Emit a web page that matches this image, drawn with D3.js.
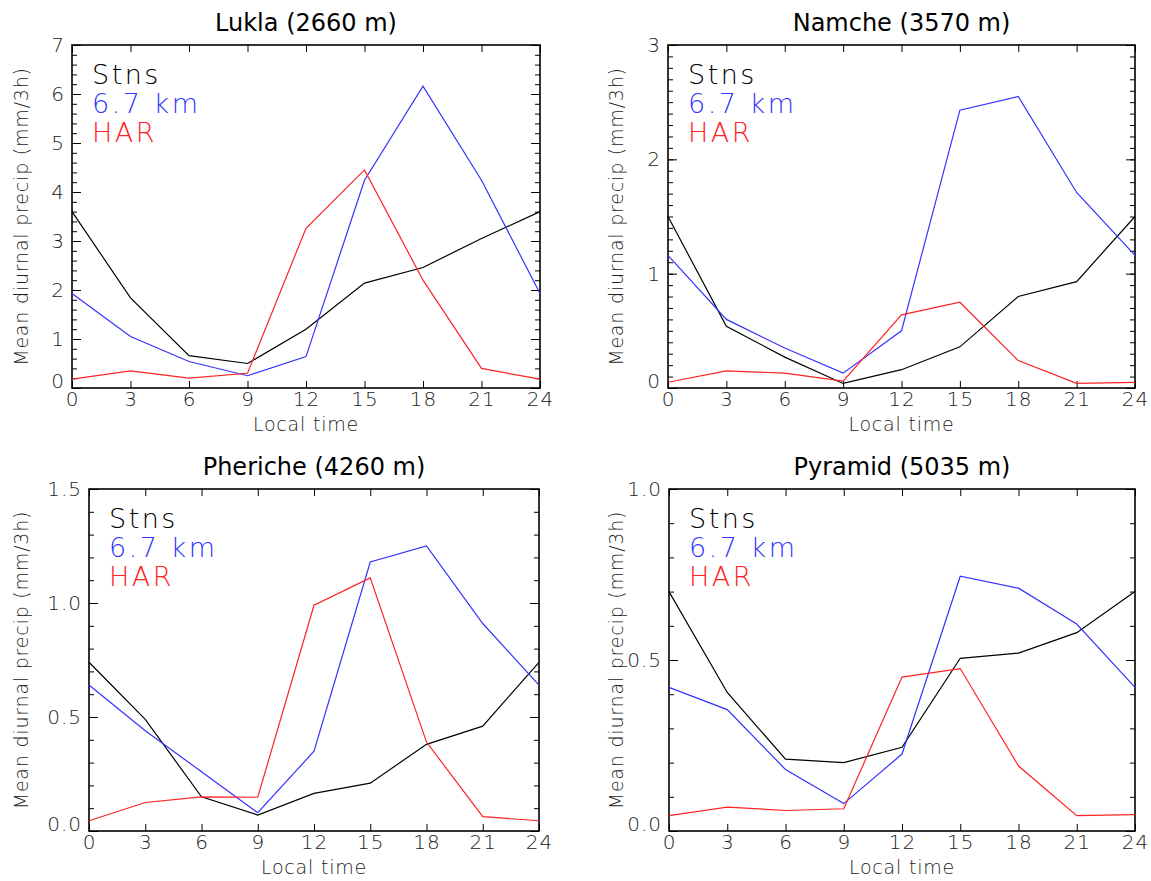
<!DOCTYPE html>
<html>
<head>
<meta charset="utf-8">
<script src="https://cdn.jsdelivr.net/npm/d3@7"></script>
<style>
  body { margin: 0; background: #fff; }
  svg { display: block; }
  .thin { font-family: 'DejaVu Sans', sans-serif; font-weight: 200; fill: #222; }
  .title { font-family: 'DejaVu Sans', sans-serif; font-size: 24px; font-weight: normal; fill: #000; }
</style>
</head>
<body>
<div id="chart"></div>
<script>
// local time (hours) of each 3-hourly mean
const hours = [0, 3, 6, 9, 12, 15, 18, 21, 24];
const stations = ['Lukla (2660 m)', 'Namche (3570 m)', 'Pheriche (4260 m)', 'Pyramid (5035 m)'];
const seriesNames = ['Stns', '6.7 km', 'HAR'];
const seriesColors = ['#000000', '#3333ff', '#ff2222'];

// y axis ranges and tick steps per station
const yMax = [7, 3, 1.5, 1.0];
const yMajor = [1, 1, 0.5, 0.5];
const yMinor = [0.2, 0.1, 0.1, 0.1];
const yFormat = ['d', 'd', '.1f', '.1f'];

// Mean diurnal precip (mm/3h)
const stnsLukla = [3.60, 1.84, 0.66, 0.50, 1.20, 2.14, 2.46, 3.05, 3.60];
const km67Lukla = [1.93, 1.05, 0.54, 0.25, 0.64, 4.24, 6.16, 4.24, 1.93];
const harLukla = [0.18, 0.35, 0.20, 0.30, 3.26, 4.45, 2.20, 0.40, 0.18];

const stnsNamche = [1.50, 0.54, 0.27, 0.04, 0.16, 0.36, 0.80, 0.93, 1.50];
const km67Namche = [1.16, 0.60, 0.35, 0.13, 0.50, 2.43, 2.55, 1.71, 1.16];
const harNamche = [0.05, 0.15, 0.13, 0.06, 0.64, 0.75, 0.24, 0.04, 0.05];

const stnsPheriche = [0.74, 0.49, 0.15, 0.07, 0.165, 0.21, 0.38, 0.46, 0.74];
const km67Pheriche = [0.64, 0.44, 0.26, 0.08, 0.35, 1.18, 1.25, 0.91, 0.64];
const harPheriche = [0.045, 0.125, 0.15, 0.148, 0.99, 1.11, 0.39, 0.063, 0.045];

const stnsPyramid = [0.70, 0.405, 0.21, 0.20, 0.245, 0.505, 0.52, 0.58, 0.70];
const km67Pyramid = [0.42, 0.355, 0.18, 0.08, 0.225, 0.745, 0.71, 0.605, 0.42];
const harPyramid = [0.045, 0.07, 0.06, 0.065, 0.45, 0.475, 0.19, 0.045, 0.048];

const panelSeries = [
  [stnsLukla, km67Lukla, harLukla],
  [stnsNamche, km67Namche, harNamche],
  [stnsPheriche, km67Pheriche, harPheriche],
  [stnsPyramid, km67Pyramid, harPyramid]
];

const width = 1151;
const height = 881;

// plot frames in pixels
const frames = [
  { left: 72, right: 540, top: 45, bottom: 388, labelX: 22 },
  { left: 668, right: 1135, top: 45, bottom: 388, labelX: 617 },
  { left: 89, right: 539, top: 489, bottom: 831, labelX: 22 },
  { left: 669, right: 1135, top: 489, bottom: 831, labelX: 617 }
];

const svg = d3.select('#chart').append('svg')
  .attr('width', width)
  .attr('height', height)
  .attr('viewBox', `0 0 ${width} ${height}`);

svg.append('rect').attr('width', width).attr('height', height).attr('fill', '#fff');

stations.forEach((name, i) => {
  const f = frames[i];
  const x = d3.scaleLinear().domain([0, 24]).range([f.left, f.right]);
  const y = d3.scaleLinear().domain([0, yMax[i]]).range([f.bottom, f.top]);
  const majors = d3.range(0, yMax[i] + 1e-9, yMajor[i]);
  const minors = d3.range(0, yMax[i] + 1e-9, yMinor[i]);
  const g = svg.append('g').attr('class', 'panel');

  // minor y ticks, both sides
  g.append('g').attr('transform', `translate(${f.left},0)`)
    .call(d3.axisLeft(y).tickValues(minors).tickSize(-5).tickFormat(''));
  g.append('g').attr('transform', `translate(${f.right},0)`)
    .call(d3.axisRight(y).tickValues(minors).tickSize(-5).tickFormat(''));

  // major y ticks
  const yAxis = g.append('g').attr('transform', `translate(${f.left},0)`)
    .call(d3.axisLeft(y).tickValues(majors).tickSizeInner(-9).tickSizeOuter(0).tickPadding(7).tickFormat(d3.format(yFormat[i])));
  g.append('g').attr('transform', `translate(${f.right},0)`)
    .call(d3.axisRight(y).tickValues(majors).tickSizeInner(-9).tickSizeOuter(0).tickFormat(''));

  // x ticks on bottom and top
  const xAxis = g.append('g').attr('transform', `translate(0,${f.bottom})`)
    .call(d3.axisBottom(x).tickValues(hours).tickSizeInner(-7).tickSizeOuter(0).tickPadding(4).tickFormat(d3.format('d')));
  g.append('g').attr('transform', `translate(0,${f.top})`)
    .call(d3.axisTop(x).tickValues(hours).tickSizeInner(-7).tickSizeOuter(0).tickFormat(''));

  g.selectAll('.domain').remove();
  g.selectAll('.tick line').attr('stroke', '#000').attr('stroke-width', 1);

  [yAxis, xAxis].forEach((ax) => {
    ax.selectAll('text').attr('class', 'thin').attr('font-size', 20).attr('letter-spacing', 1).attr('fill', '#111');
  });
  // the lowest y label sits above the x axis labels
  yAxis.selectAll('.tick text').filter((d) => d === 0).attr('dy', '-0.05em');

  // frame
  g.append('rect')
    .attr('x', f.left).attr('y', f.top)
    .attr('width', f.right - f.left).attr('height', f.bottom - f.top)
    .attr('fill', 'none').attr('stroke', '#000').attr('stroke-width', 1.6);

  // lines
  const line = d3.line().x((d, k) => x(hours[k])).y((d) => y(d));
  panelSeries[i].forEach((values, s) => {
    g.append('path')
      .datum(values)
      .attr('fill', 'none')
      .attr('stroke', seriesColors[s])
      .attr('stroke-width', 1.2)
      .attr('d', line);
  });

  // legend
  seriesNames.forEach((label, s) => {
    g.append('text')
      .attr('class', 'thin')
      .attr('x', f.left + 20)
      .attr('y', f.top + 39 + s * 29)
      .attr('font-size', 27)
      .attr('letter-spacing', 2.5)
      .style('fill', seriesColors[s])
      .text(label);
  });

  // titles
  g.append('text')
    .attr('class', 'title')
    .attr('x', (f.left + f.right) / 2)
    .attr('y', f.top - 14)
    .attr('text-anchor', 'middle')
    .text(name);

  g.append('text')
    .attr('class', 'thin')
    .attr('x', (f.left + f.right) / 2)
    .attr('y', f.bottom + 43)
    .attr('text-anchor', 'middle')
    .attr('font-size', 19)
    .attr('letter-spacing', 0.8)
    .attr('fill', '#111')
    .text('Local time');

  g.append('text')
    .attr('class', 'thin')
    .attr('transform', `translate(${f.labelX + 6},${(f.top + f.bottom) / 2}) rotate(-90)`)
    .attr('text-anchor', 'middle')
    .attr('font-size', 19)
    .attr('letter-spacing', 0.8)
    .attr('fill', '#111')
    .text('Mean diurnal precip (mm/3h)');
});
</script>
</body>
</html>
